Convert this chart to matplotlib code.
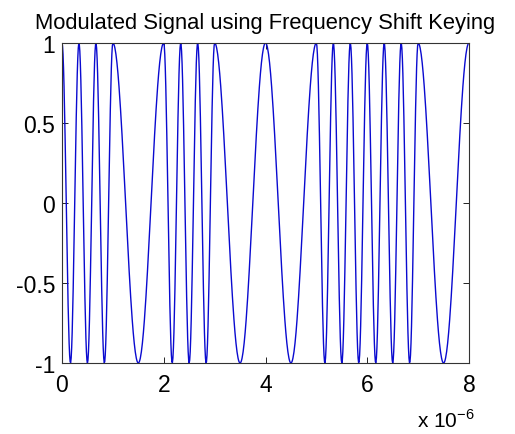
import numpy as np
import matplotlib
matplotlib.use("Agg")
import matplotlib.pyplot as plt

### FSK parameters

bits = [1, 0, 1, 0, 0, 1, 1, 0]     # one bit per microsecond
bitTime = 1e-6                      # bit period (s)
freqHigh = 3e6                      # carrier for a 1 (Hz)
freqLow = 1e6                       # carrier for a 0 (Hz)
samplesPerBit = 100

xTicks = [0, 2, 4, 6, 8]
yTicks = [-1, -0.5, 0, 0.5, 1]
yTickLabels = ['-1', '-0.5', '0', '0.5', '1']

### build the modulated signal

t = np.linspace(0, len(bits) * bitTime, len(bits) * samplesPerBit + 1)
freq = np.where(np.array(bits)[np.minimum((t / bitTime).astype(int), len(bits) - 1)] == 1,
                freqHigh, freqLow)
y = np.cos(2 * np.pi * freq * t)

plt.rcParams['font.family'] = ['Liberation Sans', 'DejaVu Sans']

fig = plt.figure(figsize=(5.15, 4.35), dpi=100)
ax = fig.add_axes([62 / 515, 1 - 364 / 435, (469 - 62) / 515, (364 - 44) / 435])
ax.plot(t * 1e6, y, color='#0a0ad0', linewidth=1.0)

ax.set_xlim(0, 8)
ax.set_ylim(-1, 1)
ax.set_xticks(xTicks)
ax.set_yticks(yTicks)
ax.set_yticklabels(yTickLabels)
ax.tick_params(direction='in', top=True, right=True, length=4, width=0.6,
               labelsize=16.5, colors='#000000')
ax.tick_params(axis='x', pad=7)
ax.tick_params(axis='y', pad=5)
for s in ax.spines.values():
    s.set_linewidth(0.8)
    s.set_color('#333333')

ax.set_title('Modulated Signal using Frequency Shift Keying', fontsize=15.8, pad=11)
fig.text(417 / 515, 1 - 428 / 435, r'x 10$^{\mathregular{-6}}$', fontsize=15,
         ha='left', va='baseline')

fig.savefig('out.png', dpi=100, facecolor='white')
